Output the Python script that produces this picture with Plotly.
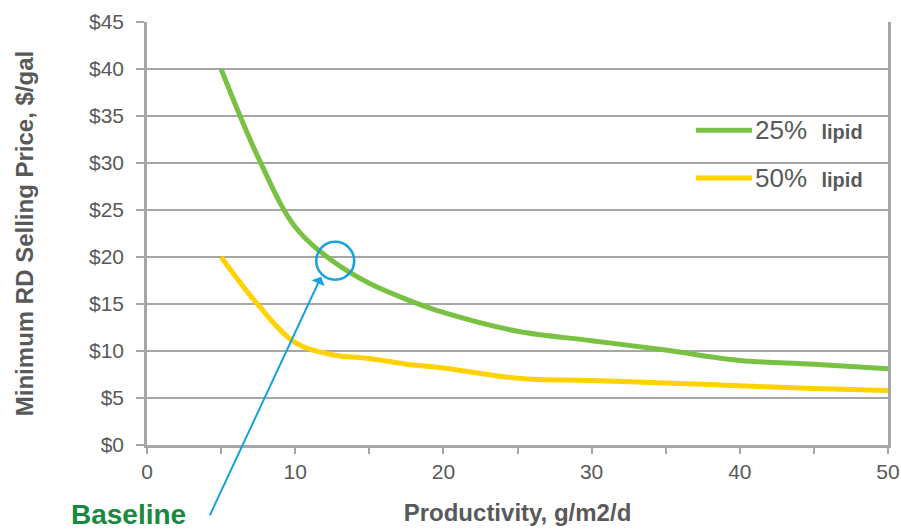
import plotly.graph_objects as go

# Data
productivity = [5, 7.5, 10, 12.5, 15, 17.5, 20, 25, 30, 35, 40, 45, 50]
price_25_lipid = [40.0, 30.6, 23.2, 19.6, 17.2, 15.5, 14.1, 12.1, 11.1, 10.1, 9.0, 8.6, 8.1]
price_50_lipid = [20.0, 14.9, 10.9, 9.6, 9.2, 8.6, 8.2, 7.1, 6.85, 6.6, 6.3, 6.0, 5.8]

series_names = ["25%", "50%"]
series_colors = ["#79C143", "#FFD200"]
baseline_point = (12.7, 19.6)

y_tick_vals = [0, 5, 10, 15, 20, 25, 30, 35, 40, 45]
y_tick_text = ["$" + str(v) for v in y_tick_vals]
x_tick_vals = [0, 10, 20, 30, 40, 50]

GRAY_TXT = "#595959"
AXIS_GRAY = "#A6A6A6"

fig = go.Figure()
for name, ys, col in zip(series_names, [price_25_lipid, price_50_lipid], series_colors):
    fig.add_trace(go.Scatter(
        x=productivity, y=ys, mode="lines", name=name + " lipid",
        line=dict(color=col, width=5, shape="spline", smoothing=1.0),
        showlegend=False, hoverinfo="x+y"))

fig.update_layout(
    width=901, height=532,
    margin=dict(l=147, r=13, t=22, b=87, autoexpand=False),
    paper_bgcolor="white", plot_bgcolor="white",
    font=dict(family="Liberation Sans, Arial, sans-serif", color=GRAY_TXT, size=21),
)
fig.update_xaxes(
    range=[0, 50], tickvals=x_tick_vals, showgrid=False, zeroline=False, automargin=False,
    showline=True, linecolor=AXIS_GRAY, linewidth=2.5,
    ticks="outside", ticklen=6, tickcolor=AXIS_GRAY, tickwidth=2,
    minor=dict(dtick=5, ticks="outside", ticklen=6, tickcolor=AXIS_GRAY, tickwidth=2, showgrid=False),
    tickfont=dict(size=21, color=GRAY_TXT),
    title=dict(text="<b>Productivity, g/m2/d</b>", font=dict(size=24, color=GRAY_TXT), standoff=23),
)
fig.update_yaxes(
    range=[0, 45], tickvals=y_tick_vals, ticktext=y_tick_text, automargin=False,
    showgrid=True, gridcolor=AXIS_GRAY, gridwidth=2, zeroline=False,
    showline=True, linecolor=AXIS_GRAY, linewidth=2.5, mirror=True,
    ticks="outside", ticklen=8, tickcolor=AXIS_GRAY, tickwidth=2,
    tickfont=dict(size=21, color=GRAY_TXT), ticklabelstandoff=8,
    title=dict(text="<b>Minimum RD Selling Price, $/gal</b>", font=dict(size=24, color=GRAY_TXT), standoff=49),
)

# Legend (drawn manually to match the long sample lines)
legend_rows = [(0.744, 0), (0.631, 1)]
for ypos, i in legend_rows:
    fig.add_shape(type="line", xref="paper", yref="paper",
                  x0=(696 - 147) / 741, x1=(752 - 147) / 741, y0=ypos, y1=ypos,
                  line=dict(color=series_colors[i], width=5))
    fig.add_annotation(xref="paper", yref="paper", x=(753 - 147) / 741, y=ypos,
                       xanchor="left", yanchor="middle", showarrow=False,
                       text=series_names[i] + "  <b><span style='font-size:20px'>lipid</span></b>",
                       font=dict(size=26, color=GRAY_TXT))

# Baseline circle
fig.add_shape(type="circle", xref="x", yref="y", xsizemode="pixel", ysizemode="pixel",
              xanchor=baseline_point[0], yanchor=baseline_point[1],
              x0=-19, x1=19, y0=-19, y1=19,
              line=dict(color="#16A2DC", width=2.5))

# Baseline arrow
fig.add_annotation(x=11.75, y=17.9, xref="x", yref="y", ax=-112, ay=240,
                   axref="pixel", ayref="pixel", text="", showarrow=True,
                   arrowhead=1, arrowsize=1.2, arrowwidth=2, arrowcolor="#16A2DC")
fig.add_annotation(xref="paper", yref="paper", x=(128 - 147) / 741, y=-(498 - 445) / 423,
                   xanchor="center", yanchor="top", showarrow=False, borderpad=0,
                   text="<b>Baseline</b>",
                   font=dict(size=28, color="#178A3E",
                             family="Liberation Sans Narrow, Arial Narrow, Liberation Sans, Arial"))

fig.write_html("out.html", config={"displayModeBar": False},
               post_script="document.body.style.margin='0';document.body.style.overflow='hidden';")
